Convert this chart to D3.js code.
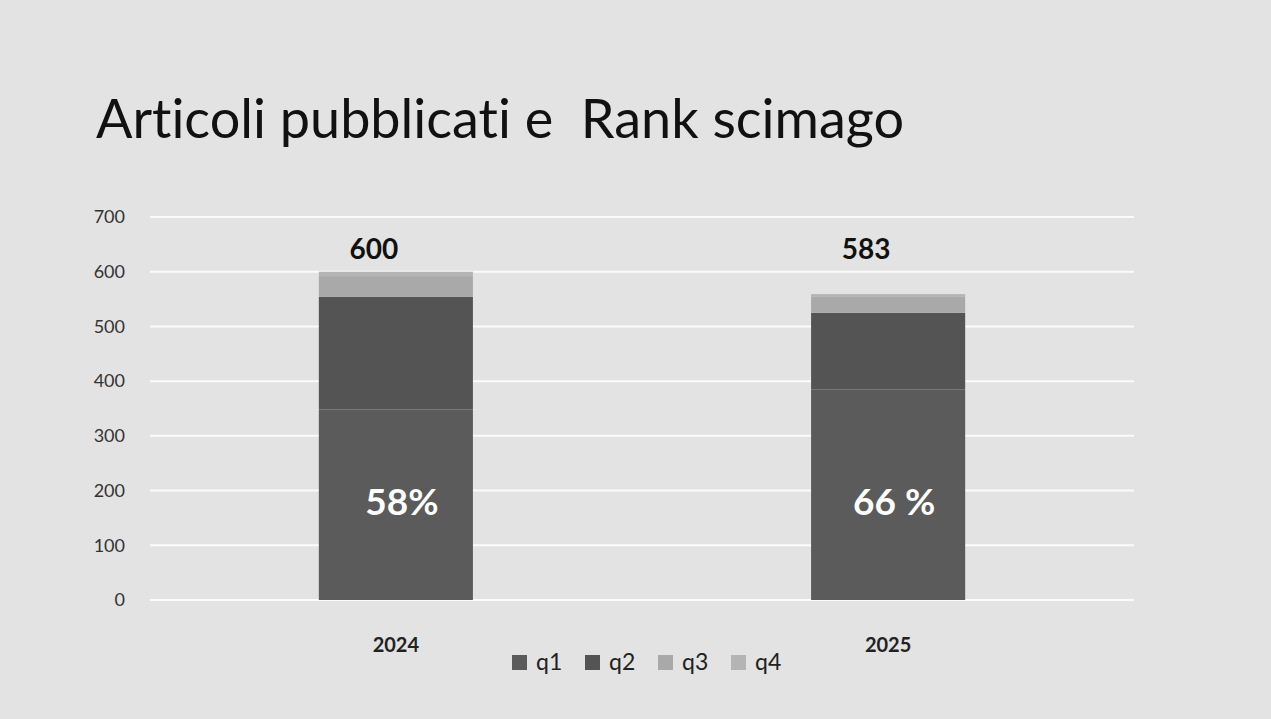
<!DOCTYPE html>
<html lang="it">
<head>
<meta charset="UTF-8">
<title>Articoli pubblicati e Rank scimago</title>
<script src="https://d3js.org/d3.v7.min.js"></script>
<style>
  body { margin: 0; background: #e3e3e3; }
  text { font-family: Lato, "Open Sans", sans-serif; font-variant-ligatures: none; }
</style>
</head>
<body>
<script>
  // data
  var years = ["2024", "2025"];
  var series = ["q1", "q2", "q3", "q4"];
  var q1 = [348, 385];
  var q2 = [206, 140];
  var q3 = [38, 30];
  var q4 = [8, 4];
  var totals = ["600", "583"];
  var q1Share = ["58%", "66 %"];
  var yTicks = [0, 100, 200, 300, 400, 500, 600, 700];
  var colors = ["#5b5b5b", "#545454", "#a9a9a9", "#b4b4b4"];

  var W = 1271, H = 719;
  var svg = d3.select("body").append("svg")
      .attr("width", W).attr("height", H);

  svg.append("rect").attr("width", W).attr("height", H).attr("fill", "#e3e3e3");

  svg.append("text")
      .attr("x", 96).attr("y", 138)
      .attr("font-size", 54)
      .attr("textLength", 808)
      .attr("fill", "#111")
      .style("white-space", "pre")
      .text("Articoli pubblicati e  Rank scimago");

  var x = d3.scaleBand().domain(years).range([150, 1134]).paddingInner(0.687).paddingOuter(0.343);
  var y = d3.scaleLinear().domain([0, 700]).range([600, 217]);

  // gridlines
  svg.append("g").selectAll("line")
      .data(yTicks).enter().append("line")
      .attr("x1", 150).attr("x2", 1134)
      .attr("y1", function (d) { return y(d); })
      .attr("y2", function (d) { return y(d); })
      .attr("stroke", "#fbfbfb").attr("stroke-width", 2);

  // y axis labels
  var yAxis = svg.append("g")
      .attr("transform", "translate(125,0)")
      .call(d3.axisLeft(y).tickValues(yTicks).tickSize(0).tickPadding(0));
  yAxis.select(".domain").remove();
  yAxis.selectAll("text").attr("font-size", 18).attr("fill", "#333")
      .style("font-family", "Lato, 'Open Sans', sans-serif");

  // stacked bars
  var rows = years.map(function (yr, i) {
    return { year: yr, q1: q1[i], q2: q2[i], q3: q3[i], q4: q4[i] };
  });
  var stacked = d3.stack().keys(series)(rows);

  svg.append("g").selectAll("g")
      .data(stacked).enter().append("g")
      .attr("fill", function (d, i) { return colors[i]; })
      .selectAll("rect")
      .data(function (d) { return d; }).enter().append("rect")
      .attr("x", function (d) { return x(d.data.year); })
      .attr("width", x.bandwidth())
      .attr("y", function (d) { return y(d[1]); })
      .attr("height", function (d) { return y(d[0]) - y(d[1]); });

  // total labels
  svg.append("g").selectAll("text")
      .data(years).enter().append("text")
      .attr("x", function (d) { return x(d) + x.bandwidth() / 2 - 22; })
      .attr("y", 259)
      .attr("text-anchor", "middle")
      .attr("font-size", 28).attr("font-weight", "bold").attr("fill", "#111")
      .text(function (d, i) { return totals[i]; });

  // q1 share labels
  svg.append("g").selectAll("text")
      .data(years).enter().append("text")
      .attr("x", function (d) { return x(d) + x.bandwidth() / 2 + 6; })
      .attr("y", 515)
      .attr("text-anchor", "middle")
      .attr("font-size", 37).attr("font-weight", "bold").attr("fill", "#fff")
      .text(function (d, i) { return q1Share[i]; });

  // x axis labels
  var xAxis = svg.append("g")
      .attr("transform", "translate(0,600)")
      .call(d3.axisBottom(x).tickSize(0).tickPadding(38));
  xAxis.select(".domain").remove();
  xAxis.selectAll("text").attr("font-size", 20).attr("font-weight", "bold").attr("fill", "#222")
      .style("font-family", "Lato, 'Open Sans', sans-serif");

  // legend
  var legend = svg.append("g").attr("transform", "translate(512,662)");
  var item = legend.selectAll("g")
      .data(series).enter().append("g")
      .attr("transform", function (d, i) { return "translate(" + (i * 73) + ",0)"; });
  item.append("rect")
      .attr("x", 0).attr("y", -7).attr("width", 15).attr("height", 15)
      .attr("fill", function (d, i) { return colors[i]; });
  item.append("text")
      .attr("x", 24).attr("y", 8)
      .attr("font-size", 23).attr("fill", "#222")
      .text(function (d) { return d; });
</script>
</body>
</html>
